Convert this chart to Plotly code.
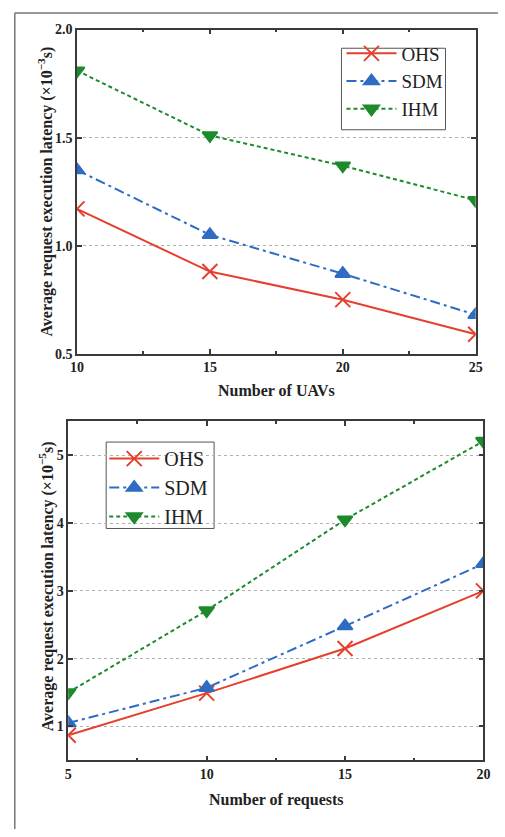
import plotly.graph_objects as go

# ---- data ----
uavs = [10, 15, 20, 25]
ohs_uav = [1.17, 0.88, 0.75, 0.59]
sdm_uav = [1.35, 1.05, 0.87, 0.68]
ihm_uav = [1.81, 1.51, 1.37, 1.21]

requests = [5, 10, 15, 20]
ohs_req = [0.87, 1.49, 2.15, 3.00]
sdm_req = [1.05, 1.57, 2.48, 3.40]
ihm_req = [1.50, 2.71, 4.05, 5.21]

series_names = ["OHS", "SDM", "IHM"]
uav_ticks = [10, 15, 20, 25]
uav_yticks = [0.5, 1.0, 1.5, 2.0]
req_ticks = [5, 10, 15, 20]
req_yticks = [1, 2, 3, 4, 5]

RED = "#e5402f"
BLUE = "#2e6cc4"
GREEN = "#1d8a2c"
SERIF = "Liberation Serif"

styles = {
    "OHS": dict(color=RED, dash="solid", symbol="x-thin-open", size=15),
    "SDM": dict(color=BLUE, dash="10px,4px,3px,4px", symbol="triangle-up", size=13),
    "IHM": dict(color=GREEN, dash="4px,3px", symbol="triangle-down", size=13),
}

fig = go.Figure()

def add(x, y, name, xa, ya):
    s = styles[name]
    fig.add_trace(go.Scatter(
        x=x, y=y, name=name, mode="lines+markers",
        xaxis=xa, yaxis=ya, showlegend=True,
        legend="legend" if xa == "x" else "legend2",
        line=dict(color=s["color"], width=2, dash=s["dash"]),
        marker=dict(symbol=s["symbol"], size=s["size"], color=s["color"],
                    line=dict(color=s["color"], width=2)),
        cliponaxis=True,
    ))

for name, ys in zip(series_names, [ohs_uav, sdm_uav, ihm_uav]):
    add(uavs, ys, name, "x", "y")
for name, ys in zip(series_names, [ohs_req, sdm_req, ihm_req]):
    add(requests, ys, name, "x2", "y2")

W, H = 505, 837
def px(v): return v / W
def py(v): return 1 - v / H

axis_common = dict(
    showline=True, linecolor="#3a3a3a", linewidth=1.5, mirror="ticks",
    ticks="inside", ticklen=5, tickwidth=1.5, tickcolor="#3a3a3a",
    tickfont=dict(family=SERIF, size=14, color="#222", weight="bold"),
    zeroline=False,
)

fig.update_layout(
    width=W, height=H,
    margin=dict(l=0, r=0, t=0, b=0),
    paper_bgcolor="white", plot_bgcolor="white",
    xaxis=dict(domain=[px(72), px(482)], anchor="y", range=[10, 25],
               tickvals=uav_ticks, showgrid=False,
               minor=dict(tickvals=[12.5, 17.5, 22.5], ticks="inside", ticklen=3,
                          tickcolor="#3a3a3a", showgrid=False),
               **axis_common),
    yaxis=dict(domain=[py(353), py(23)], anchor="x", range=[0.5, 2.0],
               tickvals=uav_yticks, tickformat=".1f",
               showgrid=True, gridcolor="#b0b0b0", griddash="dot", gridwidth=1,
               **axis_common),
    xaxis2=dict(domain=[px(63), px(490)], anchor="y2", range=[5, 20],
                tickvals=req_ticks, showgrid=False,
                minor=dict(tickvals=[7.5, 12.5, 17.5], ticks="inside", ticklen=3,
                           tickcolor="#3a3a3a", showgrid=False),
                **axis_common),
    yaxis2=dict(domain=[py(767), py(422)], anchor="x2", range=[0.5, 5.5],
                tickvals=req_yticks,
                showgrid=True, gridcolor="#b0b0b0", griddash="dot", gridwidth=1,
                **axis_common),
    legend=dict(x=px(344), y=py(28), xanchor="left", yanchor="top",
                bgcolor="rgba(255,255,255,0)", borderwidth=0,
                font=dict(family=SERIF, size=19, color="#222"),
                itemwidth=50, tracegroupgap=0),
    legend2=dict(x=px(100), y=py(440), xanchor="left", yanchor="top",
                 bgcolor="rgba(255,255,255,0)", borderwidth=0,
                 font=dict(family=SERIF, size=20, color="#222"),
                 itemwidth=50, tracegroupgap=0),
    showlegend=True,
)

# legend frames (white box above the gridlines, below the traces)
fig.add_shape(type="rect", xref="paper", yref="paper",
              x0=px(344), x1=px(451), y0=py(125), y1=py(42),
              line=dict(color="#555", width=1), fillcolor="white", layer="between")
fig.add_shape(type="rect", xref="paper", yref="paper",
              x0=px(102), x1=px(213), y0=py(531), y1=py(443),
              line=dict(color="#555", width=1), fillcolor="white", layer="between")

title_font = dict(family=SERIF, size=16, color="#222", weight="bold")
ylab_top = "Average request execution latency (×10<sup>−3</sup>s)"
ylab_bot = "Average request execution latency (×10<sup>−5</sup>s)"
fig.add_annotation(text=ylab_top, xref="paper", yref="paper", x=px(40), y=py(188),
                   textangle=-90, showarrow=False, font=title_font,
                   xanchor="center", yanchor="middle")
fig.add_annotation(text=ylab_bot, xref="paper", yref="paper", x=px(41), y=py(590),
                   textangle=-90, showarrow=False, font=title_font,
                   xanchor="center", yanchor="middle")
fig.add_annotation(text="Number of UAVs", xref="paper", yref="paper",
                   x=px(277), y=py(390), showarrow=False, font=title_font,
                   xanchor="center", yanchor="middle")
fig.add_annotation(text="Number of requests", xref="paper", yref="paper",
                   x=px(277), y=py(807), showarrow=False, font=title_font,
                   xanchor="center", yanchor="middle")

# outer frame of the figure
fig.add_shape(type="line", xref="paper", yref="paper", x0=px(8), x1=px(8),
              y0=py(6), y1=0, line=dict(color="#777", width=1.5))
fig.add_shape(type="line", xref="paper", yref="paper", x0=px(8), x1=1,
              y0=py(6), y1=py(6), line=dict(color="#777", width=1.5))

fig.write_html("out.html", config={"displayModeBar": False},
               post_script="document.body.style.margin='0';document.body.style.overflow='hidden';")
